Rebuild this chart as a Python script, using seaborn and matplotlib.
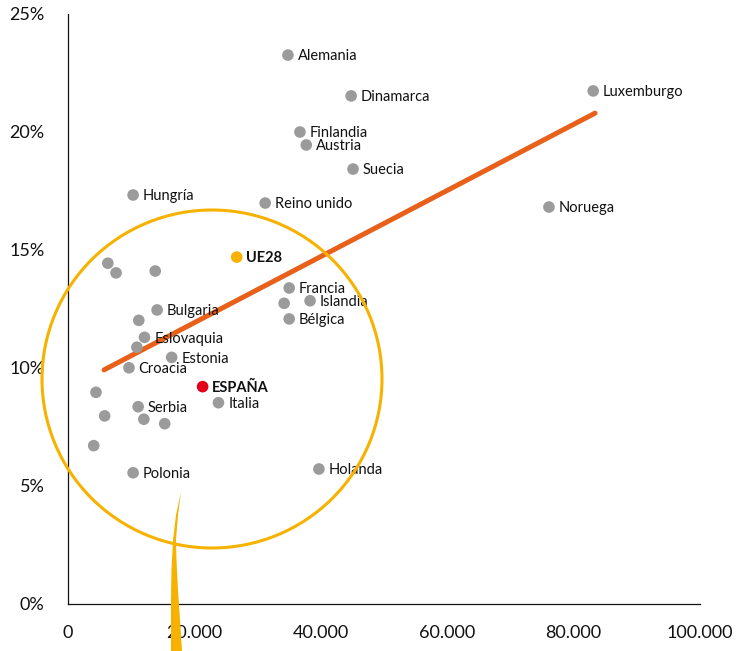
import matplotlib
matplotlib.use("Agg")
import matplotlib.pyplot as plt
import matplotlib.transforms as mtransforms
from matplotlib.patches import Ellipse, Polygon
from matplotlib.ticker import FuncFormatter
import numpy as np
import pandas as pd
import seaborn as sns

# PIB per cápita (x) vs porcentaje (y)
names = [
    "Alemania", "Dinamarca", "Luxemburgo", "Finlandia", "Austria", "Suecia",
    "Hungría", "Reino unido", "Noruega", "UE28", "", "", "", "Francia", "",
    "Islandia", "Bélgica", "Bulgaria", "", "Eslovaquia", "", "Estonia",
    "Croacia", "ESPAÑA", "", "Italia", "Serbia", "", "", "", "", "Polonia",
    "Holanda",
]
gdp = [
    34800, 44800, 83100, 36700, 37700, 45100, 10300, 31200, 76100, 26700,
    6300, 7600, 13800, 35000, 34200, 38300, 35000, 14100, 11200, 12100,
    10900, 16400, 9650, 21300, 4430, 23800, 11100, 5800, 12000, 15300,
    4070, 10300, 39700,
]
share = [
    23.26, 21.53, 21.74, 20.0, 19.45, 18.43, 17.33, 16.99, 16.82, 14.70,
    14.44, 14.03, 14.11, 13.39, 12.74, 12.85, 12.08, 12.46, 12.02, 11.30,
    10.88, 10.45, 10.01, 9.21, 8.97, 8.53, 8.36, 7.97, 7.83, 7.64,
    6.71, 5.56, 5.72,
]
trend_x = [5700, 83400]
trend_y = [9.92, 20.8]

x_ticks = [0, 20000, 40000, 60000, 80000, 100000]
y_ticks = [0, 5, 10, 15, 20, 25]

GRAY = "#9b9b9b"
ORANGE_LINE = "#e8611a"
YELLOW = "#f7b200"
RED = "#e2001a"

df = pd.DataFrame({"name": names, "gdp": gdp, "share": share})
df["group"] = np.where(df["name"] == "ESPAÑA", "es",
                       np.where(df["name"] == "UE28", "eu", "other"))

sns.set_theme(style="white")
plt.rcParams["font.family"] = ["Lato", "DejaVu Sans"]

fig = plt.figure(figsize=(7.36, 6.51), dpi=100)
ax = fig.add_axes([68 / 736, 1 - 604 / 651, 632 / 736, 590 / 651])

# pixel transform (origin top-left) for the decorative magnifier
px = mtransforms.Affine2D().scale(1 / 736, -1 / 651).translate(0, 1) + fig.transFigure

ring = Ellipse((212, 379), 340, 338, transform=px, fill=False,
               edgecolor=YELLOW, linewidth=2.2, zorder=1, clip_on=False)
fig.add_artist(ring)
tail = Polygon(
    [(181, 492), (176, 515), (173, 540), (171.5, 570), (171, 600), (171, 651),
     (182, 651), (180, 620), (178, 590), (176.5, 560), (176, 540), (178, 515)],
    closed=True, transform=px, facecolor=YELLOW, edgecolor="none", zorder=1,
)
fig.add_artist(tail)

sns.lineplot(x=trend_x, y=trend_y, ax=ax, color=ORANGE_LINE, linewidth=3.6,
             solid_capstyle="round", zorder=2)

sns.scatterplot(data=df, x="gdp", y="share", hue="group",
                palette={"other": GRAY, "eu": YELLOW, "es": RED},
                s=70, edgecolor="none", legend=False, ax=ax, zorder=3)

for _, row in df.iterrows():
    if not row["name"]:
        continue
    bold = row["group"] != "other"
    ax.annotate(row["name"], (row["gdp"], row["share"]), xytext=(7, -1),
                textcoords="offset points", va="center", ha="left",
                fontsize=10.5, color="#111111",
                fontweight="bold" if bold else "normal", zorder=4)

ax.set_xlim(0, 100000)
ax.set_ylim(0, 25)
ax.set_xticks(x_ticks)
ax.set_yticks(y_ticks)
ax.xaxis.set_major_formatter(FuncFormatter(lambda v, p: f"{int(v):,}".replace(",", ".")))
ax.yaxis.set_major_formatter(FuncFormatter(lambda v, p: f"{int(v)}%"))
ax.set_xlabel("")
ax.set_ylabel("")
ax.grid(False)
for side in ["top", "right"]:
    ax.spines[side].set_visible(False)
for side in ["left", "bottom"]:
    ax.spines[side].set_color("#111111")
    ax.spines[side].set_linewidth(0.9)
ax.tick_params(axis="both", which="both", direction="out", length=9, width=0.9,
               color="#111111", labelsize=13, labelcolor="#111111")
ax.tick_params(axis="y", pad=8)
ax.tick_params(axis="x", pad=6)
ax.set_facecolor("none")

fig.savefig("out.png", dpi=100, facecolor="white")
